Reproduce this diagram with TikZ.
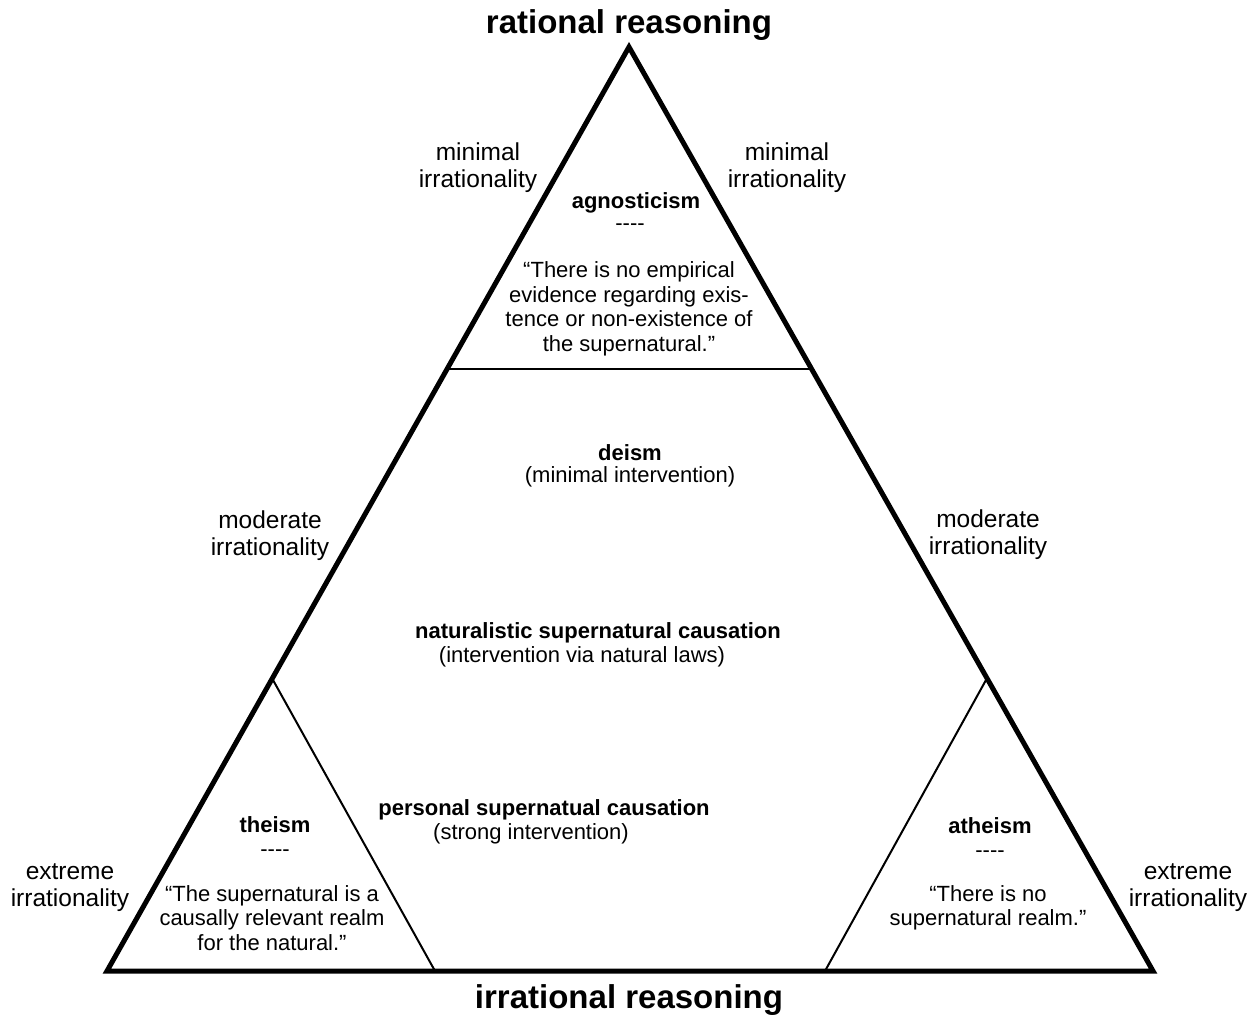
\documentclass[tikz,border=0pt]{standalone}
\usepackage{fontspec}
\setmainfont{Liberation Sans}
\newcommand{\dashes}{-{}-{}-{}-}
\begin{document}
\begin{tikzpicture}[x=1pt,y=-1pt,
  outer/.style={line width=5pt,line join=miter},
  inner/.style={line width=2pt},
  title/.style={font=\fontsize{33}{36}\selectfont\bfseries,inner sep=0pt},
  side/.style={font=\fontsize{24.5}{27}\selectfont,align=center,inner sep=0pt},
  body/.style={font=\fontsize{22}{24.5}\selectfont,align=center,inner sep=0pt},
  head/.style={font=\fontsize{22}{24}\selectfont\bfseries,align=center,inner sep=0pt}]
\useasboundingbox (0,0) rectangle (1258,1016);
% outer triangle
\coordinate (T) at (629,47);
\coordinate (L) at (107,971);
\coordinate (R) at (1153,971);
\draw[outer] (T) -- (L) -- (R) -- cycle;
% inner division lines
\coordinate (a1) at (447,369);
\coordinate (a2) at (810,369);
\draw[inner] (a1) -- (a2);
\coordinate (t1) at (273,680);
\coordinate (t2) at (435,971);
\draw[inner] (t1) -- (t2);
\coordinate (s1) at (986,680);
\coordinate (s2) at (825,971);
\draw[inner] (s1) -- (s2);
% titles
\node[title] (rr) at (629,25) {rational reasoning};
\node[title] (ir) at (629,1000) {irrational reasoning};
% side labels
\node[side] (ml) at (478,168) {minimal\\irrationality};
\node[side] (mr) at (787,168) {minimal\\irrationality};
\node[side] (dl) at (270,536) {moderate\\irrationality};
\node[side] (dr) at (988,535) {moderate\\irrationality};
\node[side] (el) at (70,888) {extreme\\irrationality};
\node[side] (er) at (1188,888) {extreme\\irrationality};
% agnosticism
\node[head] (ag) at (636,203) {agnosticism};
\node[body] (agd) at (630,227) {\dashes};
\node[body] (agq) at (629,309) {\textquotedblleft There is no empirical\\evidence regarding exis-\\tence or non-existence of\\the supernatural.\textquotedblright};
% deism
\node[head] (de) at (630,453) {deism};
\node[body] (deq) at (630,477) {(minimal intervention)};
% naturalistic
\node[head] (na) at (598,633) {naturalistic supernatural causation};
\node[body] (naq) at (582,657) {(intervention via natural laws)};
% personal
\node[head] (pe) at (544,810) {personal supernatual causation};
\node[body] (peq) at (531,834) {(strong intervention)};
% theism
\node[head] (th) at (275,837) {theism\\{\mdseries\dashes}};
\node[body] (thq) at (272,918) {\textquotedblleft The supernatural is a\\causally relevant realm\\for the natural.\textquotedblright};
% atheism
\node[head] (at) at (990,838) {atheism\\{\mdseries\dashes}};
\node[body] (atq) at (988,908) {\textquotedblleft There is no\\supernatural realm.\textquotedblright};
\end{tikzpicture}
\end{document}
